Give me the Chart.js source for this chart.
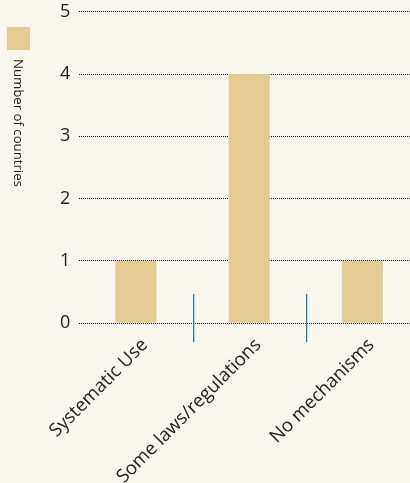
<!DOCTYPE html>
<html>
<head>
<meta charset="utf-8">
<script src="https://cdn.jsdelivr.net/npm/chart.js@4"></script>
<style>
  html, body { margin: 0; padding: 0; background: #f9f6ee; overflow: hidden; }
  #wrap { position: relative; width: 420px; height: 483px; overflow: hidden; }
  #c { position: absolute; left: 0; top: -8px; }
  #legend { position: absolute; left: 7px; top: 27px; font-family: "Open Sans", sans-serif; color: #222; }
  .lg-box { width: 23px; height: 23px; }
  .lg-text { writing-mode: vertical-rl; font-size: 13.2px; margin-top: 9px; margin-left: 4px; line-height: 15px; }
</style>
</head>
<body>
<div id="wrap">
  <canvas id="c" width="420" height="503"></canvas>
  <div id="legend"></div>
</div>
<script>
const categories = ["Systematic Use", "Some laws/regulations", "No mechanisms"];
const seriesLabel = "Number of countries";
const seriesValues = [1, 4, 1];
const yTicks = [0, 1, 2, 3, 4, 5];

const barColor = "#e2cc94";
const sepColor = "#2a7dbd";

const separators = {
  id: "separators",
  afterDatasetsDraw(chart) {
    const x = chart.scales.x, y = chart.scales.y, ctx = chart.ctx;
    ctx.save();
    ctx.fillStyle = sepColor;
    for (let i = 0; i < categories.length - 1; i++) {
      const px = Math.round((x.getPixelForValue(i) + x.getPixelForValue(i + 1)) / 2);
      const y0 = Math.round(y.getPixelForValue(0.47));
      const y1 = Math.round(y.getPixelForValue(-0.31));
      ctx.fillRect(px, y0, 1.3, y1 - y0);
    }
    ctx.restore();
  }
};

const chart = new Chart(document.getElementById("c"), {
  type: "bar",
  data: {
    labels: categories,
    datasets: [{
      label: seriesLabel,
      data: seriesValues,
      backgroundColor: barColor,
      barPercentage: 0.362,
      categoryPercentage: 1.0
    }]
  },
  options: {
    responsive: false,
    animation: false,
    layout: { padding: { top: 0, left: 51, right: 1, bottom: 4 } },
    plugins: { legend: { display: false }, tooltip: { enabled: false } },
    scales: {
      x: {
        grid: { display: false },
        border: { display: false },
        ticks: {
          color: "#222",
          font: { family: "Open Sans", size: 18.5 },
          maxRotation: 45, minRotation: 45,
          padding: 3,
          labelOffset: 9
        }
      },
      y: {
        min: 0, max: 5,
        afterBuildTicks(scale) { scale.ticks = yTicks.map(v => ({ value: v })); },
        grid: { color: "#111", lineWidth: 1, drawTicks: false },
        border: { display: false, dash: [1, 1] },
        ticks: {
          color: "#222",
          font: { family: "Open Sans", size: 18 },
          padding: 9
        }
      }
    }
  },
  plugins: [separators]
});

// HTML legend built from dataset
const lg = document.getElementById("legend");
chart.data.datasets.forEach(ds => {
  const box = document.createElement("div");
  box.className = "lg-box";
  box.style.background = ds.backgroundColor;
  const t = document.createElement("div");
  t.className = "lg-text";
  t.textContent = ds.label;
  lg.appendChild(box);
  lg.appendChild(t);
});
</script>
</body>
</html>
